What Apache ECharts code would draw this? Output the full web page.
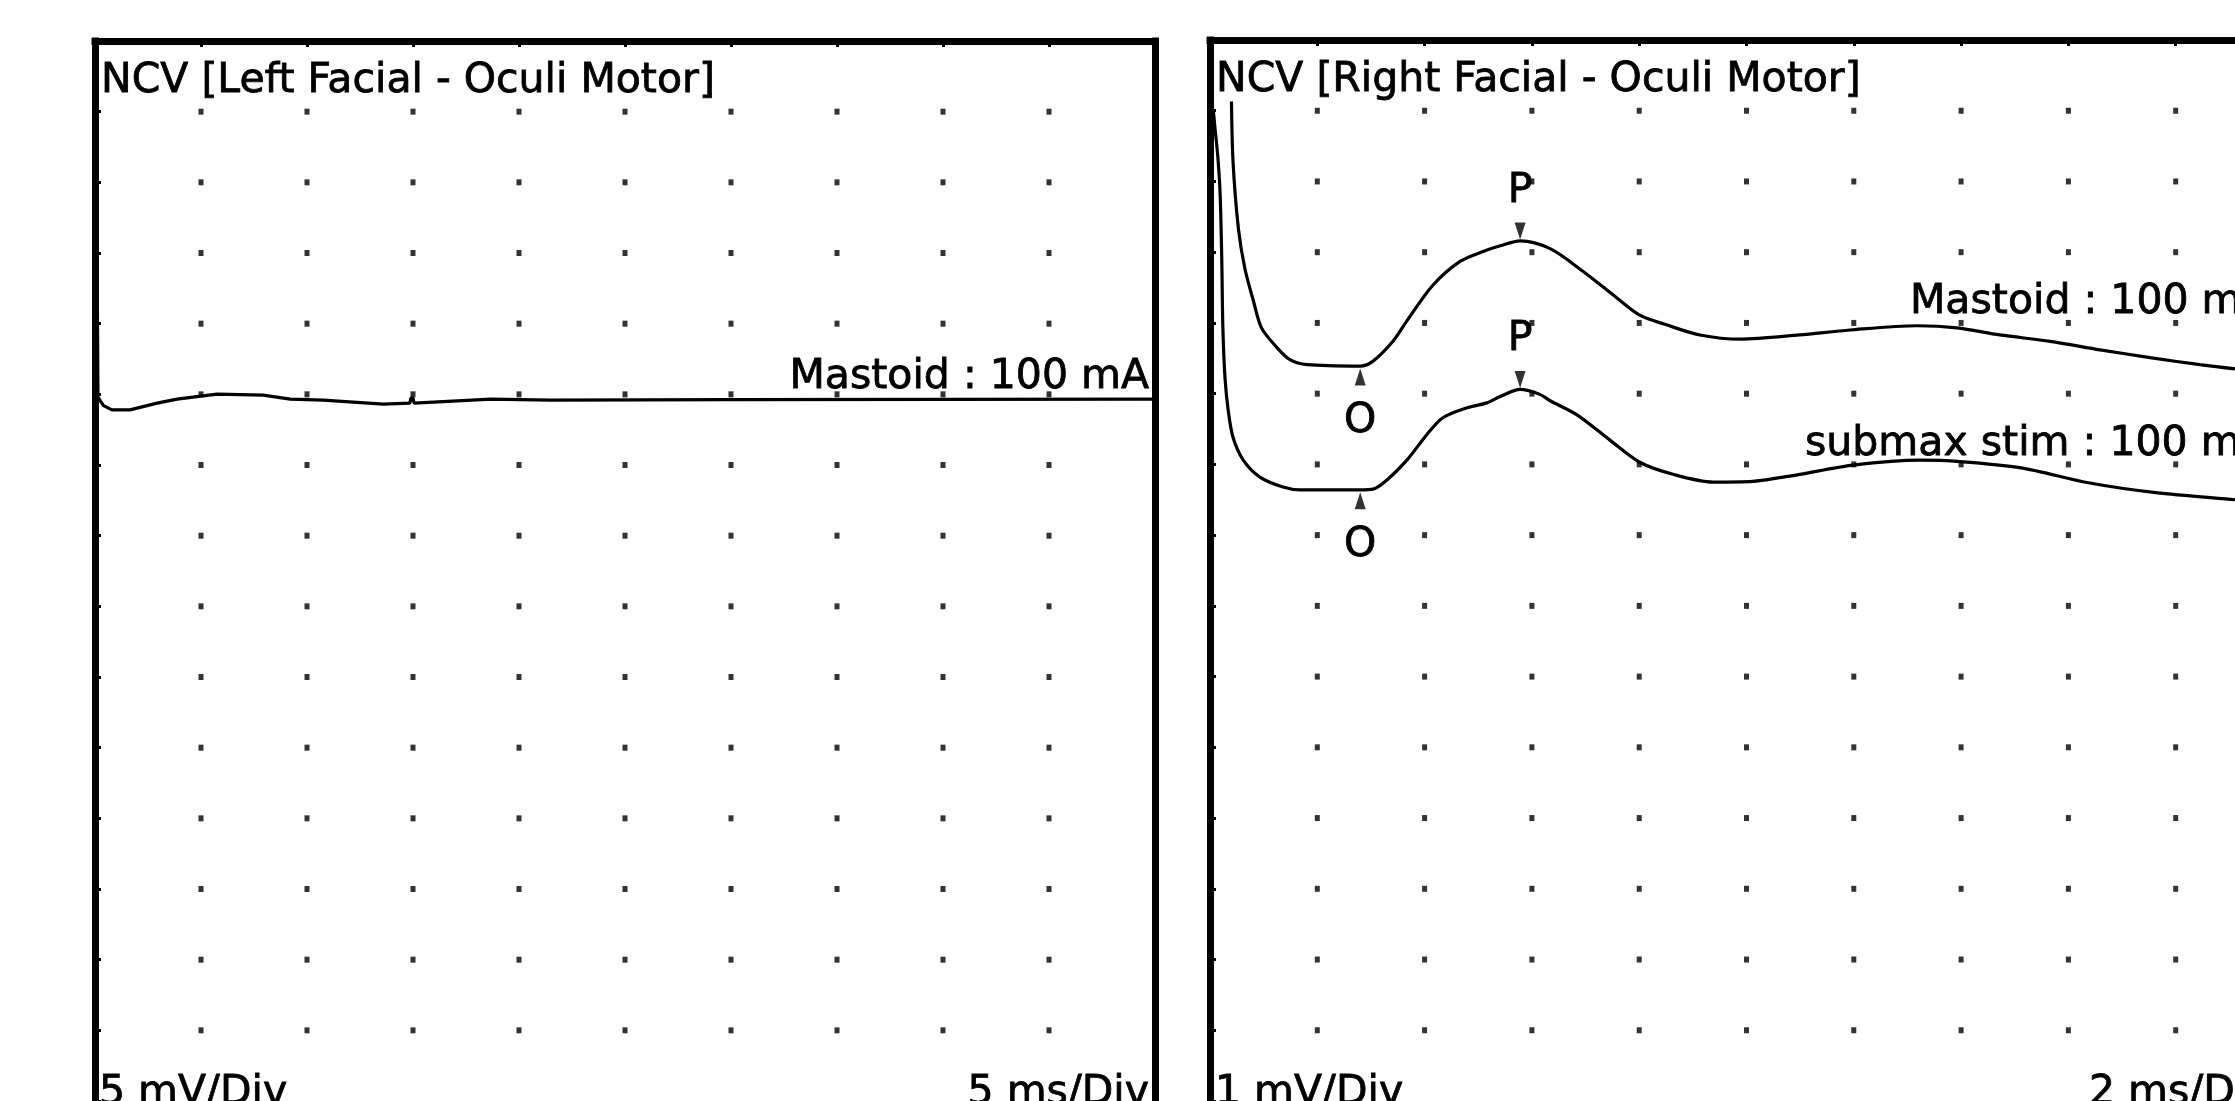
<!DOCTYPE html>
<html><head><meta charset="utf-8">
<script src="https://cdn.jsdelivr.net/npm/echarts@6/dist/echarts.min.js"></script>
<style>html,body{margin:0;padding:0;background:#fff;overflow:hidden;width:2235px;height:1101px}#c{width:2300px;height:1101px}</style>
</head><body><div id="c"></div>
<script>
// ---------- texts ----------
const leftTitle = 'NCV [Left Facial - Oculi Motor]';
const rightTitle = 'NCV [Right Facial - Oculi Motor]';
const leftTraceLabel = 'Mastoid : 100 mA';
const rightUpperLabel = 'Mastoid : 100 mA';
const rightLowerLabel = 'submax stim : 100 mA';
const leftGainLabel = '5 mV/Div';
const leftSweepLabel = '5 ms/Div';
const rightGainLabel = '1 mV/Div';
const rightSweepLabel = '2 ms/Div';

// ---------- left panel: Mastoid trace (ms, mV) ----------
const leftTime  = [0, 0.10, 0.14, 0.40, 0.80, 1.65, 2.93, 3.87, 5.76, 7.93, 9.21, 10.77, 13.6, 14.85, 14.9, 15.0, 15.05, 15.97, 18.67, 21.5, 30, 40, 50];
const leftValue = [-0.4, 9.6, -0.2, -0.8, -1.1, -1.1, -0.62, -0.34, 0.01, -0.06, -0.34, -0.41, -0.69, -0.62, -0.27, -0.27, -0.62, -0.55, -0.34, -0.41, -0.38, -0.36, -0.34];

// ---------- right panel: Mastoid (upper) trace ----------
const upperTime  = [0.40, 0.43, 0.53, 0.65, 0.81, 0.96, 1.25, 1.49, 1.81, 2.80, 3.04, 3.41, 3.67, 4.15, 4.66, 5.09, 5.41, 5.78, 6.34, 6.95, 7.59, 8.01, 8.52, 9.13, 9.88, 10.99, 11.93, 13.18, 13.92, 14.72, 15.66, 16.59, 17.52, 18.45, 19.11, 20];
const upperValue = [3.13, 2.27, 1.33, 0.77, 0.31, -0.07, -0.35, -0.52, -0.59, -0.61, -0.54, -0.26, 0.03, 0.53, 0.87, 1.01, 1.09, 1.16, 1.05, 0.73, 0.35, 0.11, -0.03, -0.17, -0.23, -0.17, -0.10, -0.04, -0.07, -0.17, -0.26, -0.38, -0.49, -0.59, -0.65, -0.72];

// ---------- right panel: submax stim (lower) trace ----------
const lowerTime  = [0.06, 0.09, 0.15, 0.19, 0.22, 0.24, 0.28, 0.34, 0.43, 0.62, 0.93, 1.36, 1.68, 2.80, 3.04, 3.30, 3.67, 4.04, 4.34, 4.79, 5.16, 5.41, 5.78, 6.15, 6.34, 6.84, 7.46, 8.01, 8.63, 9.38, 10.12, 10.68, 11.0, 11.99, 13.23, 13.98, 15.12, 16.37, 17.63, 19.11, 20];
const lowerValue = [5.02, 4.78, 4.31, 3.80, 2.87, 1.93, 1.22, 0.76, 0.38, 0.06, -0.18, -0.32, -0.36, -0.36, -0.35, -0.22, 0.06, 0.42, 0.66, 0.80, 0.87, 0.96, 1.06, 0.99, 0.90, 0.70, 0.34, 0.03, -0.14, -0.25, -0.24, -0.18, -0.14, -0.01, 0.06, 0.04, -0.05, -0.26, -0.40, -0.50, -0.56];

// ---------- latency markers (ms, mV) ----------
const upperOnset = [2.80, -0.61];
const upperPeak  = [5.78, 1.16];
const lowerOnset = [2.80, -0.36];
const lowerPeak  = [5.78, 1.06];

// ---------- axis settings ----------
const leftX  = {min: 0, max: 50, interval: 5};
const leftY  = {min: -50, max: 25, interval: 5};
const rightX = {min: 0, max: 20, interval: 2};
const rightY = {min: -11, max: 4, interval: 1};
const lowerDisplayOffset = -2; // mV shift of lower trace on screen

// ---------- layout ----------
const FONT = '"DejaVu Sans", Verdana, sans-serif';
const FS = 41;
const BORDER = 7;
const gridL = {left: 95, top: 41, width: 1060, height: 1068};
const gridR = {left: 1210, top: 40, width: 1073, height: 1068};

function zip(t, v, off) { return t.map((x, i) => [x, v[i] + (off || 0)]); }
function dots(ax, ay) {
  const out = [];
  const nx = Math.round((ax.max - ax.min) / ax.interval);
  const ny = Math.round((ay.max - ay.min) / ay.interval);
  for (let i = 1; i < nx; i++) for (let j = 1; j < ny; j++)
    out.push([ax.min + i * ax.interval, ay.min + j * ay.interval]);
  return out;
}
function borderLine() { return {show: true, onZero: false, lineStyle: {color: '#000', width: BORDER, cap: 'square'}}; }
const innerTick = {show: true, inside: true, length: 6, lineStyle: {color: '#000', width: 3}};
function xAxisCfg(ax, gi) {
  return {type: 'value', gridIndex: gi, min: ax.min, max: ax.max, interval: ax.interval, position: 'top',
    axisLine: borderLine(), axisLabel: {show: false}, splitLine: {show: false}, axisTick: innerTick};
}
function yAxisCfg(ax, gi, pos, ticks) {
  return {type: 'value', gridIndex: gi, min: ax.min, max: ax.max, interval: ax.interval, position: pos,
    axisLine: borderLine(), axisLabel: {show: false}, splitLine: {show: false},
    axisTick: ticks ? innerTick : {show: false}};
}
const traceStyle = {color: '#000', width: 3.2};
function marker(pt, off, up) {
  return {type: 'scatter', xAxisIndex: 1, yAxisIndex: 1, silent: true, z: 5,
    symbol: 'triangle', symbolSize: [11, 17], symbolRotate: up ? 0 : 180,
    symbolOffset: [0, up ? 11 : -10], itemStyle: {color: '#000'},
    data: [[pt[0], pt[1] + off]]};
}
function markText(pt, off, txt, dy) {
  return {type: 'scatter', xAxisIndex: 1, yAxisIndex: 1, silent: true, z: 6,
    symbol: 'circle', symbolSize: 0.1, itemStyle: {color: '#000', opacity: 1},
    label: {show: true, position: 'inside', formatter: txt, offset: [0, dy], color: '#000', opacity: 1,
      textBorderColor: '#000', textBorderWidth: 0.8, fontFamily: FONT, fontSize: FS},
    data: [[pt[0], pt[1] + off]]};
}
function txt(s, x, y, align) {
  return {type: 'text', x: x, y: y, z: 10, silent: true,
    style: {text: s, fill: '#000', stroke: '#000', lineWidth: 0.8, font: FS + 'px ' + FONT,
      align: align || 'left', verticalAlign: 'middle'}};
}

const chart = echarts.init(document.getElementById('c'), null, {renderer: 'canvas', width: 2300, height: 1101});
chart.setOption({
  animation: false,
  backgroundColor: '#fff',
  grid: [
    Object.assign({show: false, containLabel: false}, gridL),
    Object.assign({show: false, containLabel: false}, gridR)
  ],
  xAxis: [xAxisCfg(leftX, 0), xAxisCfg(rightX, 1)],
  yAxis: [yAxisCfg(leftY, 0, 'left', true), yAxisCfg(rightY, 1, 'left', true), yAxisCfg(leftY, 0, 'right', false)],
  series: [
    {type: 'scatter', xAxisIndex: 0, yAxisIndex: 0, silent: true, symbol: 'rect', symbolSize: [5, 6], itemStyle: {color: '#000'}, data: dots(leftX, leftY)},
    {type: 'scatter', xAxisIndex: 1, yAxisIndex: 1, silent: true, symbol: 'rect', symbolSize: [5, 6], itemStyle: {color: '#000'}, data: dots(rightX, rightY)},
    {type: 'line', xAxisIndex: 0, yAxisIndex: 0, showSymbol: false, symbol: 'none', clip: true, z: 4,
      lineStyle: traceStyle, data: zip(leftTime, leftValue)},
    {type: 'line', xAxisIndex: 1, yAxisIndex: 1, showSymbol: false, symbol: 'none', clip: true, z: 4,
      smooth: 0.3, lineStyle: traceStyle, data: zip(upperTime, upperValue)},
    {type: 'line', xAxisIndex: 1, yAxisIndex: 1, showSymbol: false, symbol: 'none', clip: true, z: 4,
      smooth: 0.3, lineStyle: traceStyle, data: zip(lowerTime, lowerValue, lowerDisplayOffset)},
    marker(upperOnset, 0, true), marker(upperPeak, 0, false),
    marker(lowerOnset, lowerDisplayOffset, true), marker(lowerPeak, lowerDisplayOffset, false),
    markText(upperOnset, 0, 'O', 55), markText(upperPeak, 0, 'P', -50),
    markText(lowerOnset, lowerDisplayOffset, 'O', 55), markText(lowerPeak, lowerDisplayOffset, 'P', -50)
  ],
  graphic: [
    txt(leftTitle, 101, 81),
    txt(rightTitle, 1216, 80),
    txt(leftTraceLabel, 1149, 377, 'right'),
    txt(rightUpperLabel, 1910, 302),
    txt(rightLowerLabel, 1805, 444),
    txt(leftGainLabel, 99, 1093),
    txt(leftSweepLabel, 1149, 1093, 'right'),
    txt(rightGainLabel, 1215, 1093),
    txt(rightSweepLabel, 2089, 1093)
  ]
});
</script></body></html>
